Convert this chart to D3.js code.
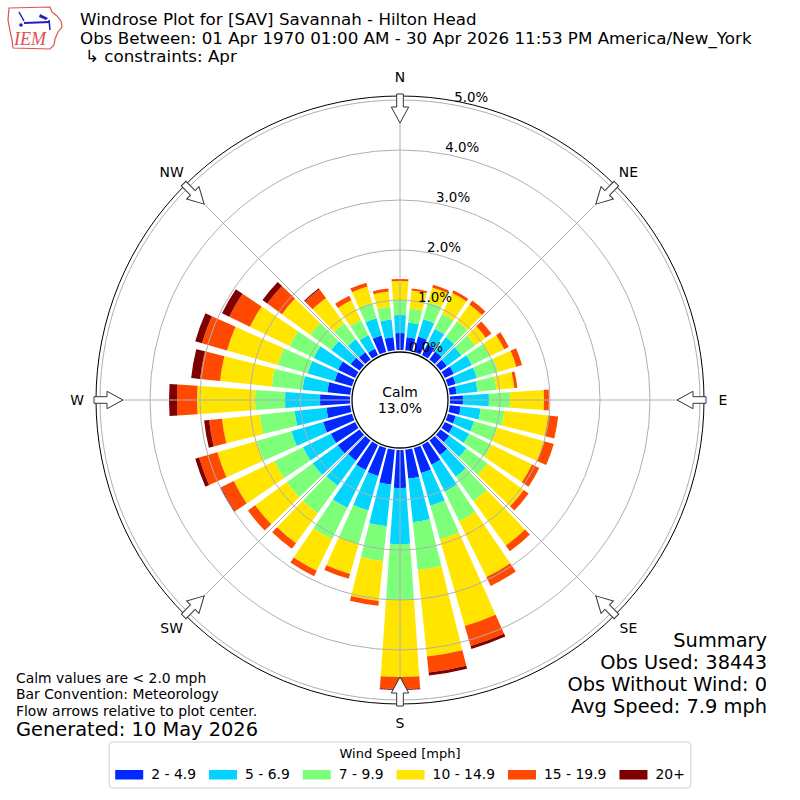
<!DOCTYPE html>
<html lang="en">
<head>
  <meta charset="UTF-8">
  <title>Windrose SAV</title>
  <style>
    body, html {
      margin: 0;
      padding: 0;
      background-color: white;
    }
    #svg {
      display: block;
      font-family: "DejaVu Sans", sans-serif;
    }
  </style>
</head>
<body>
  <svg id="svg" width="800" height="800"></svg>
  <script src="https://d3js.org/d3.v7.min.js"></script>
  <script>
    // wind directions (deg, meteorological) and speed bins
    const directions = d3.range(0, 360, 10)
    const speedBins = ['2 - 4.9', '5 - 6.9', '7 - 9.9', '10 - 14.9', '15 - 19.9', '20+']
    const binColors = ['#0028ff', '#00d4ff', '#7dff7a', '#ffe500', '#ff4800', '#7f0000']

    // percent of observations per direction, one array per speed bin
    const bin2to5 = [0.34, 0.26, 0.32, 0.24, 0.20, 0.16, 0.20, 0.16, 0.14, 0.26, 0.22, 0.16,
      0.18, 0.22, 0.36, 0.44, 0.52, 0.58, 0.76, 0.70, 0.58, 0.56, 0.50, 0.54,
      0.54, 0.60, 0.48, 0.60, 0.46, 0.36, 0.38, 0.22, 0.18, 0.14, 0.34, 0.26]
    const bin5to7 = [0.36, 0.30, 0.36, 0.34, 0.36, 0.36, 0.40, 0.44, 0.42, 0.52, 0.40, 0.38,
      0.36, 0.42, 0.54, 0.60, 0.68, 0.88, 1.12, 0.84, 0.72, 0.84, 0.62, 0.62,
      0.62, 0.66, 0.64, 0.70, 0.50, 0.56, 0.54, 0.48, 0.32, 0.30, 0.36, 0.36]
    const bin7to10 = [0.30, 0.28, 0.36, 0.34, 0.38, 0.34, 0.40, 0.44, 0.38, 0.42, 0.48, 0.48,
      0.50, 0.52, 0.60, 0.66, 0.70, 0.96, 1.12, 0.70, 0.70, 0.70, 0.68, 0.64,
      0.64, 0.72, 0.70, 0.60, 0.62, 0.62, 0.54, 0.52, 0.40, 0.34, 0.32, 0.26]
    const bin10to15 = [0.38, 0.36, 0.30, 0.46, 0.42, 0.26, 0.32, 0.38, 0.36, 0.68, 0.88, 0.98,
      0.90, 0.90, 1.10, 1.24, 1.80, 1.74, 1.54, 0.80, 0.62, 0.70, 0.74, 0.78,
      0.90, 0.82, 0.76, 1.16, 1.04, 1.06, 0.88, 0.70, 0.62, 0.44, 0.34, 0.30]
    const bin15to20 = [0.04, 0.04, 0.06, 0.06, 0.10, 0.14, 0.10, 0.12, 0.06, 0.10, 0.20, 0.20,
      0.16, 0.12, 0.14, 0.20, 0.42, 0.32, 0.24, 0.10, 0.10, 0.12, 0.14, 0.18,
      0.28, 0.38, 0.26, 0.40, 0.40, 0.52, 0.46, 0.36, 0.22, 0.10, 0.08, 0.06]
    const bin20plus = [0, 0, 0, 0, 0, 0, 0, 0, 0, 0, 0, 0,
      0, 0, 0, 0, 0.06, 0.06, 0.02, 0, 0, 0, 0, 0,
      0.02, 0.08, 0.10, 0.16, 0.18, 0.14, 0.16, 0.12, 0.02, 0, 0, 0]

    const rTicks = [0, 1, 2, 3, 4, 5]
    const compass = ['N', 'NE', 'E', 'SE', 'S', 'SW', 'W', 'NW']
    const calmPct = 13.0
    const titleLines = [
      'Windrose Plot for [SAV] Savannah - Hilton Head',
      'Obs Between: 01 Apr 1970 01:00 AM - 30 Apr 2026 11:53 PM America/New_York',
      '\u21b3 constraints: Apr'
    ]
    const summaryLines = ['Summary', 'Obs Used: 38443', 'Obs Without Wind: 0', 'Avg Speed: 7.9 mph']
    const noteLines = ['Calm values are < 2.0 mph', 'Bar Convention: Meteorology', 'Flow arrows relative to plot center.']
    const generated = 'Generated: 10 May 2026'

    const series = [bin2to5, bin5to7, bin7to10, bin10to15, bin15to20, bin20plus]

    const svg = d3.select('#svg')
    svg.append('rect').attr('width', 800).attr('height', 800).attr('fill', 'white')

    const cx = 400
    const cy = 400
    const rScale = d3.scaleLinear()
      .domain([0, 5])
      .range([50, 300])
    const rMax = rScale(5.08)
    const rad = d => d * Math.PI / 180

    const plot = svg.append('g').attr('transform', `translate(${cx}, ${cy})`)

    // stack the bins per direction
    const segments = []
    directions.forEach((dir, i) => {
      let acc = 0
      series.forEach((s, k) => {
        const v0 = acc
        acc += s[i]
        if (s[i] > 0) segments.push({ dir, k, v0, v1: acc })
      })
    })

    const arc = d3.arc()
      .innerRadius(d => rScale(d.v0))
      .outerRadius(d => rScale(d.v1))
      .startAngle(d => rad(d.dir - 4))
      .endAngle(d => rad(d.dir + 4))

    plot.selectAll('path.bar')
      .data(segments)
      .enter()
      .append('path')
      .attr('class', 'bar')
      .attr('d', arc)
      .attr('fill', d => binColors[d.k])

    // grid
    plot.selectAll('circle.grid')
      .data(rTicks.slice(1))
      .enter()
      .append('circle')
      .attr('r', d => rScale(d))
      .attr('fill', 'none')
      .attr('stroke', '#b0b0b0')
      .attr('stroke-width', 1)

    plot.selectAll('line.spoke')
      .data(d3.range(0, 360, 45))
      .enter()
      .append('line')
      .attr('x1', d => rScale(0) * Math.sin(rad(d)))
      .attr('y1', d => -rScale(0) * Math.cos(rad(d)))
      .attr('x2', d => rMax * Math.sin(rad(d)))
      .attr('y2', d => -rMax * Math.cos(rad(d)))
      .attr('stroke', '#b0b0b0')
      .attr('stroke-width', 1)

    plot.append('circle')
      .attr('r', rMax)
      .attr('fill', 'none')
      .attr('stroke', 'black')
      .attr('stroke-width', 1)

    // radial tick labels
    plot.selectAll('text.rlab')
      .data(rTicks)
      .enter()
      .append('text')
      .attr('x', d => rScale(d) * Math.sin(rad(10.4)))
      .attr('y', d => -rScale(d) + 2)
      .attr('font-size', '13.4px')
      .text(d => d.toFixed(1) + '%')

    // calm circle
    plot.append('circle')
      .attr('r', 48)
      .attr('fill', 'white')
      .attr('stroke', 'black')
      .attr('stroke-width', 1.3)
    plot.append('text')
      .attr('text-anchor', 'middle')
      .attr('y', -3)
      .attr('font-size', '13.9px')
      .text('Calm')
    plot.append('text')
      .attr('text-anchor', 'middle')
      .attr('y', 13)
      .attr('font-size', '13.9px')
      .text(calmPct.toFixed(1) + '%')

    // flow arrows on the rim
    const arrowPts = [[-3.3, -306], [3.3, -306], [3.3, -293], [8.7, -293], [0, -277], [-8.7, -293], [-3.3, -293]]
    plot.selectAll('polygon.arrow')
      .data(d3.range(0, 360, 45))
      .enter()
      .append('polygon')
      .attr('points', arrowPts.map(p => p.join(',')).join(' '))
      .attr('transform', d => `rotate(${d})`)
      .attr('fill', 'white')
      .attr('stroke', '#333')
      .attr('stroke-width', 1)

    // compass labels
    plot.selectAll('text.dir')
      .data(compass)
      .enter()
      .append('text')
      .attr('x', (d, i) => 323 * Math.sin(rad(i * 45)))
      .attr('y', (d, i) => -323 * Math.cos(rad(i * 45)))
      .attr('text-anchor', 'middle')
      .attr('dominant-baseline', 'central')
      .attr('font-size', '13.9px')
      .text(d => d)

    // title
    svg.selectAll('text.title')
      .data(titleLines)
      .enter()
      .append('text')
      .attr('x', (d, i) => i === 2 ? 85 : 80)
      .attr('y', (d, i) => [25, 44, 62][i])
      .attr('font-size', '16.7px')
      .text(d => d)

    // IEM logo
    const logo = svg.append('g')
    logo.append('path')
      .attr('d', 'M9,8 L50,7 L52,12 L57,16 L61,21 L62,27 L58,32 L55,39 L54,45 L50,49 L13,48 L12,40 L10,31 L8,20 Z')
      .attr('fill', 'white')
      .attr('stroke', '#d9534f')
      .attr('stroke-width', 1.2)
    logo.append('line').attr('x1', 24).attr('y1', 23).attr('x2', 50).attr('y2', 22)
      .attr('stroke', '#2020c0').attr('stroke-width', 2)
    logo.append('line').attr('x1', 19).attr('y1', 12).attr('x2', 24).attr('y2', 21)
      .attr('stroke', '#2020c0').attr('stroke-width', 1.5)
    logo.append('path').attr('d', 'M40,14 L48,18 L46,20 L39,17 Z').attr('fill', '#2020c0')
    logo.append('line').attr('x1', 49).attr('y1', 20).attr('x2', 50).attr('y2', 30)
      .attr('stroke', '#2020c0').attr('stroke-width', 1.5)
    logo.append('circle').attr('cx', 21).attr('cy', 25).attr('r', 1.8).attr('fill', '#2020c0')
    logo.append('text')
      .attr('x', 14)
      .attr('y', 45)
      .attr('font-family', '"Liberation Serif", serif')
      .attr('font-style', 'italic')
      .attr('font-size', '18px')
      .attr('fill', '#d9534f')
      .text('IEM')

    // summary
    svg.selectAll('text.summary')
      .data(summaryLines)
      .enter()
      .append('text')
      .attr('x', 767)
      .attr('y', (d, i) => 647 + i * 22)
      .attr('text-anchor', 'end')
      .attr('font-size', '19.4px')
      .text(d => d)

    // notes
    svg.selectAll('text.note')
      .data(noteLines)
      .enter()
      .append('text')
      .attr('x', 16)
      .attr('y', (d, i) => 683 + i * 16.3)
      .attr('font-size', '13.9px')
      .text(d => d)
    svg.append('text')
      .attr('x', 16)
      .attr('y', 736)
      .attr('font-size', '19.4px')
      .text(generated)

    // legend
    const legend = svg.append('g')
    const box = legend.append('rect')
      .attr('y', 742)
      .attr('height', 46)
      .attr('rx', 3)
      .attr('fill', 'white')
      .attr('stroke', '#d0d0d0')
      .attr('stroke-width', 1)
    legend.append('text')
      .attr('x', 400)
      .attr('y', 758)
      .attr('text-anchor', 'middle')
      .attr('font-size', '13px')
      .text('Wind Speed [mph]')
    let lx = 0
    const items = legend.append('g')
    speedBins.forEach((label, k) => {
      items.append('rect')
        .attr('x', lx)
        .attr('y', 770)
        .attr('width', 28)
        .attr('height', 9.5)
        .attr('fill', binColors[k])
      const t = items.append('text')
        .attr('x', lx + 36)
        .attr('y', 779)
        .attr('font-size', '13.9px')
        .text(label)
      lx += 36 + t.node().getComputedTextLength() + 13
    })
    const itemsWidth = lx - 13
    items.attr('transform', `translate(${400 - itemsWidth / 2}, 0)`)
    box.attr('x', 400 - itemsWidth / 2 - 6).attr('width', itemsWidth + 12)
  </script>
</body>
</html>
